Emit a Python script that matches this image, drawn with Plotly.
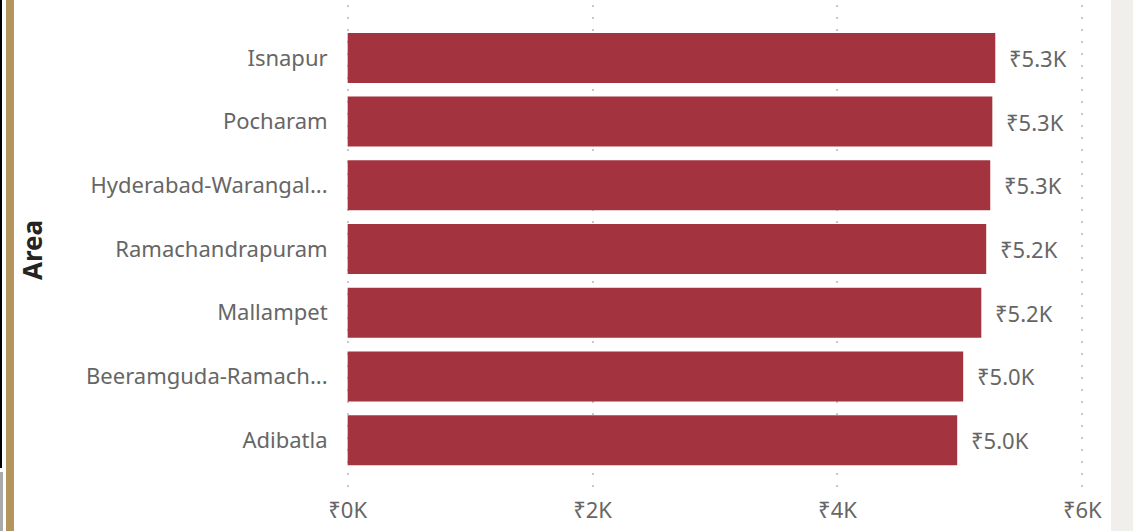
import plotly.graph_objects as go

areas = ["Isnapur", "Pocharam", "Hyderabad-Warangal...", "Ramachandrapuram",
         "Mallampet", "Beeramguda-Ramach...", "Adibatla"]
avg_price = [5289, 5265, 5248, 5215, 5175, 5027, 4978]
value_labels = ["₹5.3K", "₹5.3K", "₹5.3K", "₹5.2K", "₹5.2K", "₹5.0K", "₹5.0K"]
tick_vals = [0, 2000, 4000, 6000]
tick_text = ["₹0K", "₹2K", "₹4K", "₹6K"]

W, H = 1133, 531
L, R, T, B = 344, 47, 5, 36
PW, PH = W - L - R, H - T - B

def px(x):
    return (x - L) / PW

def py(y):
    return (H - B - y) / PH

FONT = "Noto Sans"
GRAY = "#666666"

fig = go.Figure()
fig.add_trace(go.Bar(
    x=avg_price, y=areas, orientation="h",
    marker=dict(color="#A3343F", line=dict(width=0)),
    hoverinfo="skip",
))

annotations = []
for a, v, t in zip(areas, avg_price, value_labels):
    annotations.append(dict(x=v, y=a, xref="x", yref="y", text=t, showarrow=False,
                            xanchor="left", yanchor="middle", xshift=12,
                            font=dict(family=FONT, size=22, color=GRAY)))
annotations.append(dict(x=px(32), y=py(250), xref="paper", yref="paper", text="<b>Area</b>",
                        textangle=-90, showarrow=False, xanchor="center", yanchor="middle",
                        font=dict(family=FONT, size=26, color="#252423")))

shapes = [
    # right grey strip
    dict(type="rect", xref="paper", yref="paper", x0=px(1111), x1=px(1140), y0=py(-5), y1=py(540),
         fillcolor="#F0EFEC", line=dict(width=0), layer="below"),
    # left black border
    dict(type="rect", xref="paper", yref="paper", x0=px(-2), x1=px(2), y0=py(-5), y1=py(468),
         fillcolor="#000000", line=dict(width=0)),
    dict(type="rect", xref="paper", yref="paper", x0=px(-2), x1=px(3), y0=py(472), y1=py(540),
         fillcolor="#AAAAAA", line=dict(width=0)),
    # brown strip
    dict(type="rect", xref="paper", yref="paper", x0=px(6), x1=px(14), y0=py(-5), y1=py(540),
         fillcolor="#B5955E", line=dict(width=0)),
]

fig.update_layout(
    width=W, height=H,
    margin=dict(l=L, r=R, t=T, b=B),
    paper_bgcolor="white", plot_bgcolor="white",
    bargap=0.215, showlegend=False,
    annotations=annotations, shapes=shapes,
    xaxis=dict(range=[-30, 6030], tickvals=tick_vals, ticktext=tick_text,
               showgrid=True, gridcolor="#C8C8C8", griddash="2px,10px", gridwidth=2,
               zeroline=False, showline=False, ticks="",
               tickfont=dict(family=FONT, size=22, color=GRAY)),
    yaxis=dict(range=[6.86, -0.83], showgrid=False, zeroline=False, showline=False,
               ticks="outside", ticklen=11, tickcolor="rgba(0,0,0,0)",
               tickfont=dict(family=FONT, size=22, color=GRAY)),
)

fig.write_html("out.html", config={"displayModeBar": False},
               post_script="document.body.style.margin='0';document.body.style.overflow='hidden';")
